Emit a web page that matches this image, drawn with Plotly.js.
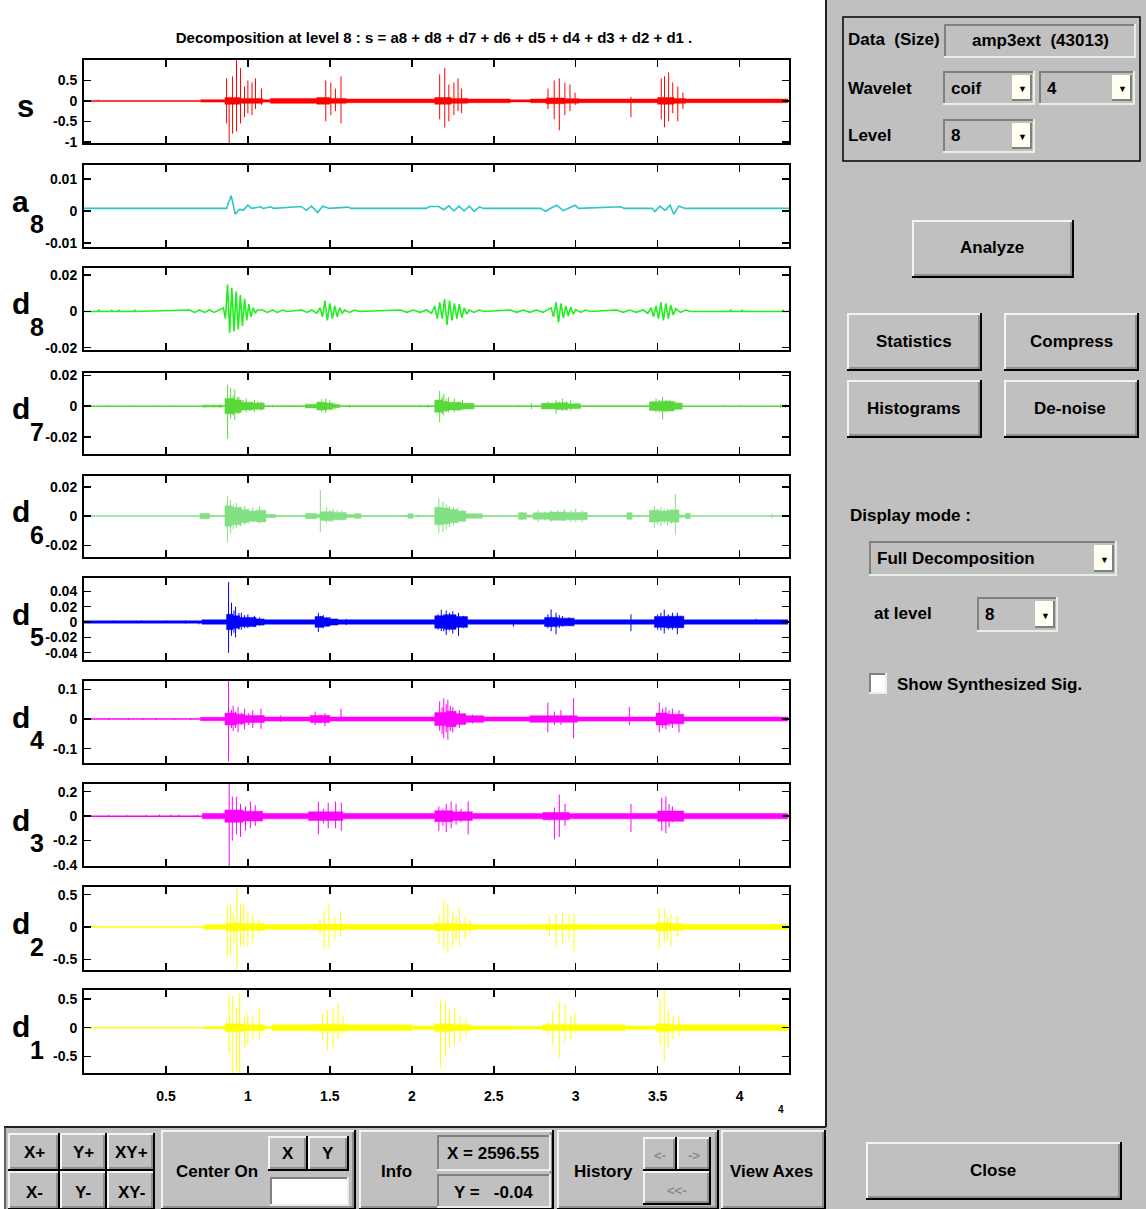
<!DOCTYPE html>
<html><head><meta charset="utf-8">
<script src="https://cdn.plot.ly/plotly-3.0.1.min.js"></script>
<style>html,body{margin:0;padding:0;background:#fff;overflow:hidden}#chart{width:1146px;height:1209px}</style>
</head><body><div id="chart"></div>
<script>
// ---------------- DATA ----------------
const N_SAMPLES = 43013;
const xTickVals = [5000, 10000, 15000, 20000, 25000, 30000, 35000, 40000];
const xTickText = ['0.5', '1', '1.5', '2', '2.5', '3', '3.5', '4'];
const panelLetters = ['s', 'a', 'd', 'd', 'd', 'd', 'd', 'd', 'd', 'd'];
const panelLevels  = ['', '8', '8', '7', '6', '5', '4', '3', '2', '1'];

// s
const s_range = [-1.03, 1.0];
const s_tickVals = [-1, -0.5, 0, 0.5];
const s_tickText = ['-1', '-0.5', '0', '0.5'];
const s_spikeT  = [850, 8700, 8857, 9064, 9307, 9550, 9793, 10000, 10250, 10463, 10828, 14750, 15060, 15340, 15680, 21700, 22010, 22260, 22570, 22820, 23040, 28310, 28690, 29000, 29340, 29650, 29960, 33370, 35220, 35420, 35670, 35920, 36230, 36540];
const s_spikeUp = [0.03, 0.55, 0.05, 0.6, 1.0, 0.8, 0.35, 0.5, 0.45, 0.55, 0.3, 0.5, 0.45, 0.3, 0.6, 0.65, 0.8, 0.4, 0.45, 0.55, 0.3, 0.3, 0.5, 0.55, 0.45, 0.4, 0.2, 0.1, 0.55, 0.6, 0.7, 0.45, 0.35, 0.2];
const s_spikeDn = [0, -0.55, -1.03, -0.8, -0.75, -0.55, -0.4, -0.3, -0.35, -0.2, -0.1, -0.5, -0.35, -0.25, -0.55, -0.45, -0.65, -0.5, -0.35, -0.25, -0.3, -0.2, -0.45, -0.72, -0.35, -0.25, -0.1, -0.4, -0.45, -0.65, -0.5, -0.3, -0.5, -0.2];
const s_bandX = [7117, 8600, 9500, 10900, 11375, 14200, 15000, 16000, 21400, 22400, 23400, 26000, 27250, 28200, 29300, 30200, 35000, 36000, 36700, 42960];
const s_bandH = [0.03, 0.08, 0.06, 0.03, 0.06, 0.08, 0.06, 0.045, 0.08, 0.06, 0.045, 0.025, 0.045, 0.07, 0.055, 0.045, 0.08, 0.06, 0.045];

// a8
const a8_range = [-0.0112, 0.0143];
const a8_tickVals = [-0.01, 0, 0.01];
const a8_tickText = ['-0.01', '0', '0.01'];
const a8_x = [1, 8700, 8980, 9230, 9480, 9730, 10000, 10220,
  10770, 10940, 11400, 11560,
  13260, 13570, 13880, 14250, 14560, 14970,
  16120, 16300,
  20870, 21080, 21640, 21950, 22260, 22570, 22880, 23190, 23500, 23810, 24120, 24370,
  27850, 28160, 28530, 28840, 29240, 29710, 29960, 30180,
  32750, 32970,
  34670, 34830, 35140, 35450, 35760, 35980, 36290, 36690,
  43013];
const a8_y = [0.0008, 0.0008, 0.0048, -0.0010, 0.0005, 0.0003, 0.0018, 0.0008,
  0.0013, 0.0008, 0.0013, 0.0008,
  0.0014, 0.0002, 0.0015, -0.0005, 0.0015, 0.0008,
  0.0012, 0.0008,
  0.0008, 0.0014, 0.0014, 0.0004, 0.0016, 0.0000, 0.0015, 0.0000, 0.0015, -0.0001, 0.0013, 0.0008,
  0.0008, -0.0001, 0.0010, 0.0018, 0.0001, 0.0012, 0.0018, 0.0008,
  0.0013, 0.0008,
  0.0008, -0.0002, 0.0015, 0.0002, 0.0018, -0.0010, 0.0015, 0.0008,
  0.0008];

// d8
const d8_range = [-0.0213, 0.024];
const d8_tickVals = [-0.02, 0, 0.02];
const d8_tickText = ['-0.02', '0', '0.02'];
const d8_x = [1,
  850, 900, 950, 1640, 1690, 1740, 2070, 2120, 2170, 3040, 3090, 3140,
  6450, 6750, 7050, 7350, 7650, 7950, 8270,
  8500, 8630, 8760, 8890, 9020, 9150, 9280, 9410, 9540, 9670, 9800, 9930, 10060, 10190, 10320, 10450, 10580,
  10900, 11200, 11500, 11800, 12100, 12400,
  13300, 13600, 13900, 14200,
  14400, 14550, 14700, 14850, 15000, 15150, 15300, 15450, 15600, 15750, 15900, 16200, 16500, 16800,
  19300, 19700, 20100, 20500, 20900, 21200,
  21400, 21550, 21700, 21850, 22000, 22150, 22300, 22450, 22600, 22750, 22900, 23050, 23200, 23350, 23500, 23800, 24100, 24400,
  26000, 26400, 26800, 27200, 27600, 28000,
  28500, 28650, 28800, 28950, 29100, 29250, 29400, 29550, 29700, 29850, 30000, 30300, 30600, 30900,
  32500, 32900, 33300, 33700, 34100, 34400,
  34600, 34750, 34900, 35050, 35200, 35350, 35500, 35650, 35800, 35950, 36100, 36400, 36700, 37000,
  39400, 39450, 39500, 40100, 40150, 40200, 42600, 42650, 42700,
  43013];
const d8_y = [0,
  0, 0.0008, 0, 0, 0.0008, 0, 0, 0.0008, 0, 0, 0.0008, 0,
  0.0008, -0.0005, 0.0008, -0.0005, 0.0008, -0.0005, 0.001,
  0.002, -0.004, 0.0148, -0.0118, 0.013, -0.011, 0.011, -0.010, 0.009, -0.008, 0.007, -0.005, 0.004, -0.003, 0.002, -0.001, 0.0008,
  0.0008, -0.0005, 0.0008, -0.0005, 0.0008, 0,
  0.0008, -0.0005, 0.0008, -0.001,
  0.002, -0.003, 0.006, -0.005, 0.0045, -0.004, 0.003, -0.003, 0.002, -0.001, 0.0008, -0.0005, 0.0008, 0,
  0.0008, -0.0005, 0.0008, -0.0005, 0.0008, -0.001,
  0.003, -0.004, 0.005, -0.004, 0.0068, -0.0075, 0.006, -0.005, 0.0045, -0.004, 0.004, -0.0035, 0.002, -0.0015, 0.0008, -0.0005, 0.0008, 0,
  0.0008, -0.0005, 0.0008, -0.0005, 0.0008, -0.0005,
  0.002, -0.003, 0.005, -0.006, 0.0045, -0.0035, 0.003, -0.0025, 0.0025, -0.0015, 0.001, -0.0005, 0.0008, 0,
  0.0008, -0.0005, 0.0008, -0.0005, 0.0008, -0.001,
  0.002, -0.003, 0.003, -0.004, 0.005, -0.005, 0.0045, -0.004, 0.0035, -0.002, 0.0015, -0.0005, 0.0008, 0,
  0, 0.0008, 0, 0, 0.0008, 0, 0, 0.0008, 0,
  0];

// d7
const d7_range = [-0.0312, 0.0216];
const d7_tickVals = [-0.02, 0, 0.02];
const d7_tickText = ['-0.02', '0', '0.02'];
const d7_spikeT  = [1500, 2800, 4300, 5200, 7400, 7900, 8300, 8760, 8950, 9100, 9200, 9350, 9450, 9700, 9900, 10150, 10400, 10600, 10800, 11500, 12600, 14300, 14500, 14750, 15000, 15300, 16200, 20500, 21000, 21700, 21850, 21950, 22100, 22250, 22600, 22850, 23100, 23500, 26500, 27300, 28300, 28550, 28800, 29000, 29200, 29450, 29700, 30000, 34900, 35100, 35300, 35500, 35700, 35900, 36100, 39100, 40000, 42500, 42800];
const d7_spikeUp = [0.0006, 0.0006, 0.0006, 0.0006, 0.001, 0.001, 0.0012, 0.014, 0.012, 0.007, 0.011, 0.006, 0.006, 0.004, 0.005, 0.003, 0.004, 0.003, 0.003, 0.001, 0.0008, 0.003, 0.0045, 0.005, 0.004, 0.002, 0.001, 0.001, 0.001, 0.010, 0.006, 0.008, 0.005, 0.006, 0.005, 0.003, 0.004, 0.002, 0.0008, 0.002, 0.003, 0.002, 0.004, 0.003, 0.005, 0.003, 0.004, 0.002, 0.005, 0.004, 0.006, 0.004, 0.004, 0.003, 0.003, 0.0008, 0.0008, 0.0012, 0.0012];
const d7_spikeDn = [-0.0003, 0, 0, 0, -0.001, -0.0008, -0.001, -0.0213, -0.008, -0.006, -0.009, -0.005, -0.005, -0.003, -0.004, -0.003, -0.004, -0.002, -0.003, -0.0008, -0.0005, -0.002, -0.004, -0.0045, -0.003, -0.002, -0.001, -0.0008, -0.001, -0.0105, -0.005, -0.006, -0.004, -0.004, -0.004, -0.003, -0.003, -0.002, -0.0008, -0.002, -0.002, -0.002, -0.005, -0.002, -0.003, -0.003, -0.003, -0.002, -0.004, -0.004, -0.0087, -0.004, -0.003, -0.003, -0.002, 0, 0, -0.0012, -0.0012];
const d7_bandX = [7200, 8460, 8600, 9200, 9600, 10300, 11000, 13500, 14200, 14800, 15200, 15600, 21400, 21900, 22200, 23000, 23800, 27900, 28800, 29500, 30300, 34500, 35200, 36000, 36500];
const d7_bandH = [0.0006, 0, 0.005, 0.004, 0.0025, 0.002, 0, 0.0012, 0.0025, 0.002, 0.001, 0, 0.004, 0.003, 0.0025, 0.0018, 0, 0.0018, 0.0022, 0.0015, 0, 0.0028, 0.0032, 0.002, 0];

// d6
const d6_range = [-0.028, 0.0274];
const d6_tickVals = [-0.02, 0, 0.02];
const d6_tickText = ['-0.02', '0', '0.02'];
const d6_spikeT  = [7300, 8750, 8950, 9100, 9300, 9550, 9800, 10050, 10300, 10700, 11400, 14420, 14800, 15000, 15200, 15450, 15700, 16700, 19900, 20400, 21650, 21900, 22100, 22300, 22550, 22800, 23100, 23800, 26700, 27700, 28100, 28500, 28900, 29300, 29700, 30000, 30400, 33300, 33800, 34800, 35000, 35200, 35400, 35600, 35850, 36080, 36850, 41970];
const d6_spikeUp = [0.002, 0.0139, 0.011, 0.008, 0.009, 0.006, 0.007, 0.005, 0.006, 0.0067, 0.0015, 0.0179, 0.006, 0.004, 0.005, 0.004, 0.004, 0.002, 0.0015, 0.001, 0.0123, 0.010, 0.008, 0.007, 0.006, 0.006, 0.004, 0.002, 0.003, 0.004, 0.003, 0.004, 0.004, 0.005, 0.004, 0.005, 0.004, 0.003, 0.001, 0.007, 0.005, 0.006, 0.005, 0.005, 0.004, 0.015, 0.002, 0.0015];
const d6_spikeDn = [-0.002, -0.018, -0.012, -0.009, -0.008, -0.007, -0.006, -0.005, -0.004, -0.005, -0.0015, -0.011, -0.005, -0.004, -0.004, -0.003, -0.003, -0.002, -0.0015, -0.001, -0.0115, -0.011, -0.009, -0.0075, -0.006, -0.005, -0.004, -0.002, -0.003, -0.004, -0.003, -0.004, -0.003, -0.0035, -0.004, -0.004, -0.004, -0.003, -0.001, -0.008, -0.006, -0.007, -0.005, -0.006, -0.005, -0.0125, -0.002, -0.0015];
const d6_bandX = [7060, 7660, 8600, 9000, 9600, 10000, 10500, 11100, 11700, 13500, 14200, 14400, 15200, 16000, 16500, 16900, 19770, 20080, 21400, 21900, 22300, 22800, 23300, 24300, 26500, 27000, 27400, 28400, 29400, 30700, 33120, 33440, 34500, 35100, 35700, 36300, 36700, 37000];
const d6_bandH = [0.0018, 0, 0.007, 0.006, 0.0045, 0.0035, 0.004, 0.001, 0, 0.0018, 0.001, 0.003, 0.0025, 0.001, 0.0015, 0, 0.0015, 0, 0.006, 0.0055, 0.0045, 0.0035, 0.0015, 0, 0.0022, 0.0008, 0.0022, 0.0028, 0.0025, 0, 0.0022, 0, 0.004, 0.0035, 0.0042, 0.0008, 0.0018];

// d5
const d5_range = [-0.0495, 0.0573];
const d5_tickVals = [-0.04, -0.02, 0, 0.02, 0.04];
const d5_tickText = ['-0.04', '-0.02', '0', '0.02', '0.04'];
const d5_spikeT  = [1800, 3500, 5000, 6200, 7000, 8820, 9000, 9150, 9250, 9450, 9600, 9800, 10000, 10400, 10700, 11600, 14300, 14450, 14600, 14800, 15000, 16000, 21600, 21800, 21950, 22100, 22300, 22500, 22850, 23150, 26200, 28300, 28500, 28800, 29000, 29200, 29600, 33370, 35000, 35200, 35400, 35650, 35900, 36200, 36400, 41000];
const d5_spikeUp = [0.002, 0.002, 0.002, 0.002, 0.001, 0.052, 0.025, 0.015, 0.02, 0.012, 0.012, 0.009, 0.01, 0.008, 0.006, 0.003, 0.012, 0.008, 0.009, 0.006, 0.006, 0.004, 0.01, 0.016, 0.01, 0.015, 0.012, 0.014, 0.012, 0.008, 0.002, 0.01, 0.0164, 0.012, 0.009, 0.008, 0.006, 0.01, 0.01, 0.012, 0.016, 0.01, 0.012, 0.012, 0.008, 0.004];
const d5_spikeDn = [-0.001, -0.001, -0.001, -0.002, -0.003, -0.04, -0.018, -0.014, -0.02, -0.01, -0.01, -0.008, -0.008, -0.006, -0.005, -0.003, -0.013, -0.007, -0.008, -0.006, -0.005, -0.004, -0.01, -0.012, -0.012, -0.017, -0.011, -0.015, -0.018, -0.008, -0.006, -0.008, -0.012, -0.016, -0.008, -0.006, -0.005, -0.012, -0.01, -0.011, -0.015, -0.01, -0.01, -0.016, -0.007, -0.002];
const d5_bandX = [1, 7200, 8700, 9100, 9500, 10500, 11000, 14100, 14600, 15000, 15500, 21400, 22000, 22700, 23400, 28100, 28900, 29900, 34800, 35500, 36600, 42960];
const d5_bandH = [0.0015, 0.0028, 0.01, 0.008, 0.006, 0.004, 0.0028, 0.007, 0.0055, 0.004, 0.0028, 0.008, 0.0095, 0.007, 0.0028, 0.006, 0.005, 0.0028, 0.007, 0.0075, 0.0028];

// d4
const d4_range = [-0.148, 0.128];
const d4_tickVals = [-0.1, 0, 0.1];
const d4_tickText = ['-0.1', '0', '0.1'];
const d4_spikeT  = [1500, 2700, 3600, 4400, 5500, 6500, 8820, 9000, 9100, 9250, 9400, 9600, 9800, 10050, 10300, 10800, 12000, 14100, 14400, 14700, 15680, 21700, 21850, 21950, 22100, 22200, 22350, 22500, 22900, 23700, 28300, 28700, 29100, 29870, 33270, 35100, 35300, 35500, 35700, 35900, 36300];
const d4_spikeUp = [0.004, 0.004, 0.004, 0.004, 0.003, 0.004, 0.128, 0.03, 0.045, 0.025, 0.04, 0.02, 0.035, 0.02, 0.03, 0.035, 0.012, 0.025, 0.015, 0.02, 0.034, 0.06, 0.04, 0.07, 0.05, 0.065, 0.045, 0.04, 0.03, 0.015, 0.055, 0.025, 0.03, 0.07, 0.04, 0.055, 0.035, 0.04, 0.03, 0.035, 0.03];
const d4_spikeDn = [-0.004, -0.004, -0.003, -0.004, -0.003, -0.004, -0.142, -0.03, -0.04, -0.03, -0.045, -0.02, -0.035, -0.02, -0.03, -0.033, -0.01, -0.02, -0.015, -0.025, -0.008, -0.04, -0.05, -0.065, -0.045, -0.07, -0.04, -0.045, -0.03, -0.015, -0.045, -0.02, -0.02, -0.065, -0.02, -0.045, -0.03, -0.035, -0.025, -0.03, -0.045];
const d4_bandX = [7100, 8600, 9300, 9800, 11000, 13800, 15000, 21400, 22100, 22700, 23300, 24400, 27200, 30100, 34900, 35600, 36600, 42960];
const d4_bandH = [0.006, 0.02, 0.016, 0.012, 0.007, 0.012, 0.007, 0.022, 0.026, 0.018, 0.011, 0.007, 0.011, 0.007, 0.02, 0.016, 0.007];

// d3
const d3_range = [-0.408, 0.263];
const d3_tickVals = [-0.4, -0.2, 0, 0.2];
const d3_tickText = ['-0.4', '-0.2', '0', '0.2'];
const d3_spikeT  = [1500, 2600, 3800, 4600, 5300, 5800, 6700, 6900, 8857, 9050, 9300, 9550, 9850, 10150, 10450, 10800, 14300, 14600, 14900, 15350, 15700, 21650, 21900, 22100, 22400, 22700, 23000, 23440, 28700, 29000, 29350, 33370, 35250, 35500, 35700, 35900, 36300];
const d3_spikeUp = [0.01, 0.01, 0.01, 0.012, 0.012, 0.012, 0.01, 0.012, 0.263, 0.16, 0.16, 0.1, 0.08, 0.12, 0.09, 0.04, 0.12, 0.06, 0.11, 0.12, 0.11, 0.08, 0.06, 0.1, 0.12, 0.1, 0.06, 0.12, 0.07, 0.176, 0.1, 0.1, 0.15, 0.16, 0.1, 0.08, 0.04];
const d3_spikeDn = [0, 0, 0, 0, 0, 0, 0, 0, -0.408, -0.2, -0.15, -0.17, -0.12, -0.1, -0.08, -0.03, -0.15, -0.06, -0.1, -0.1, -0.12, -0.12, -0.08, -0.13, -0.1, -0.07, -0.05, -0.15, -0.19, -0.17, -0.08, -0.13, -0.12, -0.14, -0.09, -0.05, -0.04];
const d3_bandX = [7210, 8600, 9700, 10900, 13700, 15800, 21400, 22500, 23700, 28000, 29600, 35000, 36600, 42960];
const d3_bandH = [0.022, 0.05, 0.04, 0.022, 0.035, 0.022, 0.045, 0.035, 0.022, 0.03, 0.022, 0.042, 0.022];

// d2
const d2_range = [-0.666, 0.619];
const d2_tickVals = [-0.5, 0, 0.5];
const d2_tickText = ['-0.5', '0', '0.5'];
const d2_spikeT  = [8760, 8950, 9150, 9330, 9550, 9750, 10000, 10300, 10700, 14400, 14650, 14950, 15300, 15650, 21650, 21950, 22200, 22500, 22700, 22900, 23250, 23550, 28400, 28800, 29200, 29600, 29900, 35100, 35400, 35600, 35800, 36200];
const d2_spikeUp = [0.33, 0.35, 0.2, 0.619, 0.35, 0.37, 0.25, 0.2, 0.12, 0.12, 0.25, 0.35, 0.15, 0.25, 0.2, 0.41, 0.35, 0.25, 0.15, 0.3, 0.15, 0.1, 0.15, 0.2, 0.22, 0.2, 0.2, 0.3, 0.28, 0.15, 0.2, 0.18];
const d2_spikeDn = [-0.46, -0.45, -0.25, -0.666, -0.3, -0.28, -0.3, -0.25, -0.1, -0.12, -0.33, -0.33, -0.2, -0.15, -0.25, -0.34, -0.415, -0.3, -0.2, -0.3, -0.2, -0.1, -0.15, -0.3, -0.25, -0.2, -0.39, -0.35, -0.25, -0.2, -0.3, -0.15];
const d2_bandX = [7300, 8700, 9800, 11000, 14000, 15800, 21400, 22600, 23700, 28000, 30200, 34900, 35800, 36600, 42960];
const d2_bandH = [0.035, 0.06, 0.05, 0.04, 0.045, 0.04, 0.055, 0.045, 0.035, 0.04, 0.035, 0.06, 0.05, 0.04];

// d1
const d1_range = [-0.79, 0.656];
const d1_tickVals = [-0.5, 0, 0.5];
const d1_tickText = ['-0.5', '0', '0.5'];
const d1_spikeT  = [8700, 8860, 9050, 9300, 9500, 9800, 10000, 10300, 10700, 14550, 14850, 15200, 15500, 15800, 21750, 22050, 22300, 22600, 22950, 23300, 28300, 28600, 29000, 29350, 29700, 29950, 35150, 35400, 35650, 35950, 36300];
const d1_spikeUp = [0.1, 0.55, 0.55, 0.35, 0.6, 0.2, 0.25, 0.2, 0.35, 0.25, 0.3, 0.35, 0.43, 0.2, 0.5, 0.45, 0.3, 0.35, 0.2, 0.15, 0.1, 0.3, 0.45, 0.4, 0.2, 0.25, 0.5, 0.656, 0.3, 0.2, 0.2];
const d1_spikeDn = [-0.05, -0.44, -0.79, -0.75, -0.79, -0.35, -0.3, -0.2, -0.2, -0.2, -0.4, -0.35, -0.2, -0.1, -0.69, -0.5, -0.35, -0.3, -0.25, -0.15, -0.1, -0.3, -0.52, -0.25, -0.2, -0.1, -0.3, -0.58, -0.35, -0.2, -0.15];
const d1_bandX = [7360, 8600, 9800, 11000, 11500, 14000, 16000, 20000, 21400, 22500, 23600, 26200, 28000, 30200, 33000, 34900, 35800, 36700, 42950];
const d1_bandH = [0.02, 0.065, 0.05, 0.02, 0.05, 0.06, 0.05, 0.03, 0.065, 0.05, 0.03, 0.025, 0.05, 0.05, 0.03, 0.065, 0.05, 0.05];

// ---------------- STYLE / LAYOUT ----------------
const W = 1146, H = 1209;
const F = "'Liberation Sans', Arial, sans-serif";
const panelTop    = [60, 165, 268, 373, 476, 578, 681, 784, 887, 990];
const panelBottom = [143, 247, 350, 454, 557, 660, 763, 866, 970, 1073];
const plotLeft = 84, plotRight = 789;
const panels = [
  {color: '#ff0000', yr: s_range, tv: s_tickVals, tt: s_tickText, spikes: [s_spikeT, s_spikeUp, s_spikeDn], band: [s_bandX, s_bandH]},
  {color: '#2ec6c6', yr: a8_range, tv: a8_tickVals, tt: a8_tickText, wave: [a8_x, a8_y]},
  {color: '#22ee22', yr: d8_range, tv: d8_tickVals, tt: d8_tickText, wave: [d8_x, d8_y]},
  {color: '#5ad83a', yr: d7_range, tv: d7_tickVals, tt: d7_tickText, spikes: [d7_spikeT, d7_spikeUp, d7_spikeDn], band: [d7_bandX, d7_bandH]},
  {color: '#84e084', yr: d6_range, tv: d6_tickVals, tt: d6_tickText, spikes: [d6_spikeT, d6_spikeUp, d6_spikeDn], band: [d6_bandX, d6_bandH]},
  {color: '#0000ff', yr: d5_range, tv: d5_tickVals, tt: d5_tickText, spikes: [d5_spikeT, d5_spikeUp, d5_spikeDn], band: [d5_bandX, d5_bandH]},
  {color: '#ff00ff', yr: d4_range, tv: d4_tickVals, tt: d4_tickText, spikes: [d4_spikeT, d4_spikeUp, d4_spikeDn], band: [d4_bandX, d4_bandH]},
  {color: '#ff00ff', yr: d3_range, tv: d3_tickVals, tt: d3_tickText, spikes: [d3_spikeT, d3_spikeUp, d3_spikeDn], band: [d3_bandX, d3_bandH]},
  {color: '#ffff00', yr: d2_range, tv: d2_tickVals, tt: d2_tickText, spikes: [d2_spikeT, d2_spikeUp, d2_spikeDn], band: [d2_bandX, d2_bandH]},
  {color: '#ffff00', yr: d1_range, tv: d1_tickVals, tt: d1_tickText, spikes: [d1_spikeT, d1_spikeUp, d1_spikeDn], band: [d1_bandX, d1_bandH]}
];

const P = x => x / W;
const Q = y => 1 - y / H;

const traces = [];
const layout = {
  width: W, height: H, margin: {l: 0, r: 0, t: 0, b: 0},
  paper_bgcolor: '#ffffff', plot_bgcolor: '#ffffff', showlegend: false, hovermode: false,
  title: {text: 'Decomposition at level 8 : s = a8 + d8 + d7 + d6 + d5 + d4 + d3 + d2 + d1 .',
    x: P(434), xref: 'paper', xanchor: 'center', y: Q(38), yref: 'paper', yanchor: 'middle',
    font: {family: F, size: 15, color: '#000', weight: 'bold'}},
  shapes: [], annotations: []
};

panels.forEach((p, i) => {
  const k = i + 1;
  const xa = 'x' + (k === 1 ? '' : k), ya = 'y' + (k === 1 ? '' : k);
  const axKeyX = 'xaxis' + (k === 1 ? '' : k), axKeyY = 'yaxis' + (k === 1 ? '' : k);
  if (p.wave) {
    traces.push({x: p.wave[0], y: p.wave[1], xaxis: xa, yaxis: ya, mode: 'lines', line: {color: p.color, width: 1.6}, hoverinfo: 'skip'});
  } else {
    traces.push({x: [1, N_SAMPLES], y: [0, 0], xaxis: xa, yaxis: ya, mode: 'lines', line: {color: p.color, width: 1.5}, hoverinfo: 'skip'});
  }
  if (p.band) {
    const bx = p.band[0], bh = p.band[1];
    const up = bh.concat([bh[bh.length - 1]]);
    const dn = up.map(v => -v);
    traces.push({x: bx, y: up, xaxis: xa, yaxis: ya, mode: 'lines', line: {color: p.color, width: 0.5, shape: 'hv'}, hoverinfo: 'skip'});
    traces.push({x: bx, y: dn, xaxis: xa, yaxis: ya, mode: 'lines', fill: 'tonexty', fillcolor: p.color, line: {color: p.color, width: 0.5, shape: 'hv'}, hoverinfo: 'skip'});
  }
  if (p.spikes) {
    const sx = [], sy = [];
    p.spikes[0].forEach((t, j) => { sx.push(t, t, null); sy.push(p.spikes[1][j], p.spikes[2][j], null); });
    traces.push({x: sx, y: sy, xaxis: xa, yaxis: ya, mode: 'lines', line: {color: p.color, width: 1}, connectgaps: false, hoverinfo: 'skip'});
  }
  const common = {showline: true, linecolor: '#000', linewidth: 2, mirror: 'ticks', ticks: 'inside', ticklen: 7, tickwidth: 1.5, tickcolor: '#000', showgrid: false, zeroline: false, fixedrange: true,
    tickfont: {family: F, size: 14, color: '#000', weight: 'bold'}};
  layout[axKeyX] = Object.assign({}, common, {domain: [P(plotLeft), P(plotRight)], anchor: ya, range: [1, N_SAMPLES], tickmode: 'array', tickvals: xTickVals, ticktext: xTickText, showticklabels: k === 10, ticklabelstandoff: 9});
  layout[axKeyY] = Object.assign({}, common, {domain: [Q(panelBottom[i]), Q(panelTop[i])], anchor: xa, range: p.yr, tickmode: 'array', tickvals: p.tv, ticktext: p.tt, ticklabelstandoff: 2});
  const mid = (panelTop[i] + panelBottom[i]) / 2;
  if (panelLevels[i] === '') {
    layout.annotations.push({xref: 'paper', yref: 'paper', x: P(15), y: Q(mid + 5), xanchor: 'left', yanchor: 'middle',
      text: panelLetters[i], showarrow: false, font: {family: F, size: 31, color: '#000', weight: 'bold'}});
  } else {
    layout.annotations.push({xref: 'paper', yref: 'paper', x: P(10), y: Q(mid - 5), xanchor: 'left', yanchor: 'middle',
      text: panelLetters[i], showarrow: false, font: {family: F, size: 30, color: '#000', weight: 'bold'}});
    layout.annotations.push({xref: 'paper', yref: 'paper', x: P(28), y: Q(mid + 18), xanchor: 'left', yanchor: 'middle',
      text: panelLevels[i], showarrow: false, font: {family: F, size: 25, color: '#000', weight: 'bold'}});
  }
});

layout.annotations.push({xref: 'paper', yref: 'paper', x: P(786), y: Q(1117), text: '4', showarrow: false, font: {family: F, size: 10, color: '#000', weight: 'bold'}});

// ---------------- GUI CHROME ----------------
const S = layout.shapes, A = layout.annotations;
function rect(x0, y0, x1, y1, fill, lc, lw) {
  S.push({type: 'rect', xref: 'paper', yref: 'paper', x0: P(x0), x1: P(x1), y0: Q(y1), y1: Q(y0), fillcolor: fill || 'rgba(0,0,0,0)', line: {color: lc || 'rgba(0,0,0,0)', width: lw || 0}, layer: 'above'});
}
function seg(x0, y0, x1, y1, c, w) {
  S.push({type: 'line', xref: 'paper', yref: 'paper', x0: P(x0), x1: P(x1), y0: Q(y0), y1: Q(y1), line: {color: c, width: w}, layer: 'above'});
}
function txt(x, y, t, anchor, size, color) {
  A.push({xref: 'paper', yref: 'paper', x: P(x), y: Q(y), xanchor: anchor || 'left', yanchor: 'middle', text: t, showarrow: false,
    font: {family: F, size: size || 16, color: color || '#000', weight: 'bold'}});
}
function raised(x0, y0, x1, y1, fill) {
  rect(x0, y0, x1, y1, fill || '#c0c0c0');
  seg(x0, y0 + 1, x1, y0 + 1, '#f4f4ee', 2);
  seg(x0 + 1, y0, x0 + 1, y1, '#f4f4ee', 2);
  seg(x0, y1 - 1, x1, y1 - 1, '#000000', 2);
  seg(x1 - 1, y0, x1 - 1, y1, '#000000', 2);
  seg(x0 + 2, y1 - 3, x1 - 2, y1 - 3, '#808080', 1.5);
  seg(x1 - 3, y0 + 2, x1 - 3, y1 - 2, '#808080', 1.5);
}
function sunken(x0, y0, x1, y1, fill) {
  rect(x0, y0, x1, y1, fill || '#c0c0c0');
  seg(x0, y0 + 1, x1, y0 + 1, '#808080', 2);
  seg(x0 + 1, y0, x0 + 1, y1, '#808080', 2);
  seg(x0, y1 - 1, x1, y1 - 1, '#e4f2e4', 2);
  seg(x1 - 1, y0, x1 - 1, y1, '#e4f2e4', 2);
}
function popup(x0, y0, x1, y1, t) {
  sunken(x0, y0, x1, y1, '#c0c0c0');
  const ax0 = x1 - 23, ax1 = x1 - 3;
  rect(ax0, y0 + 4, ax1, y1 - 4, '#fffff2');
  seg(ax0, y1 - 5, ax1, y1 - 5, '#808080', 2);
  seg(ax1 - 1, y0 + 4, ax1 - 1, y1 - 4, '#808080', 2);
  txt((ax0 + ax1) / 2, (y0 + y1) / 2 + 1, '▼', 'center', 9);
  txt(x0 + 6, (y0 + y1) / 2, t, 'left', 17);
}

rect(827, 0, 1146, 1209, '#c0c0c0');
rect(4, 1127, 827, 1209, '#c0c0c0');
seg(826, 0, 826, 1127, '#202020', 2);
seg(4, 1127, 826, 1127, '#202020', 2);
seg(5, 1127, 5, 1209, '#404040', 1.5);

raised(8, 1133, 60, 1171); txt(34, 1152, 'X+', 'center', 17);
raised(60, 1133, 107, 1171); txt(83, 1152, 'Y+', 'center', 17);
raised(107, 1133, 155, 1171); txt(131, 1152, 'XY+', 'center', 17);
raised(8, 1171, 60, 1210); txt(34, 1192, 'X-', 'center', 17);
raised(60, 1171, 107, 1210); txt(83, 1192, 'Y-', 'center', 17);
raised(107, 1171, 155, 1210); txt(131, 1192, 'XY-', 'center', 17);
raised(161, 1130, 356, 1210);
txt(217, 1171, 'Center On', 'center', 17);
raised(268, 1136, 308, 1171); txt(288, 1153, 'X', 'center', 17);
raised(308, 1136, 349, 1171); txt(328, 1153, 'Y', 'center', 17);
sunken(270, 1177, 349, 1206, '#ffffff');
raised(359, 1130, 554, 1210);
txt(396, 1171, 'Info', 'center', 17);
sunken(437, 1135, 551, 1171, '#c0c0c0'); txt(493, 1153, 'X = 2596.55', 'center', 17);
sunken(437, 1174, 551, 1208, '#c0c0c0'); txt(493, 1192, 'Y =&nbsp;&nbsp; -0.04', 'center', 17);
raised(557, 1130, 719, 1210);
txt(603, 1171, 'History', 'center', 17);
raised(643, 1137, 677, 1171); txt(660, 1155, '&lt;-', 'center', 13, '#8a8a8a');
raised(677, 1137, 711, 1171); txt(694, 1155, '-&gt;', 'center', 13, '#8a8a8a');
raised(643, 1171, 711, 1205); txt(677, 1190, '&lt;&lt;-', 'center', 13, '#8a8a8a');
raised(721, 1130, 826, 1210); txt(771, 1171, 'View Axes', 'center', 17);

rect(843, 17, 1140, 161, null, '#000000', 1.5);
txt(846, 40, 'Data&nbsp; (Size)', 'left', 17);
sunken(944, 24, 1136, 58, '#c0c0c0'); txt(1040, 41, 'amp3ext&nbsp; (43013)', 'center', 17);
txt(846, 88, 'Wavelet', 'left', 17);
popup(943, 71, 1035, 105, 'coif');
popup(1039, 71, 1135, 105, '4');
txt(846, 135, 'Level', 'left', 17);
popup(943, 119, 1035, 153, '8');
raised(912, 220, 1074, 278); txt(992, 248, 'Analyze', 'center', 17);
raised(847, 313, 982, 371); txt(914, 341, 'Statistics', 'center', 17);
raised(1004, 313, 1139, 371); txt(1071, 341, 'Compress', 'center', 17);
raised(847, 380, 982, 438); txt(914, 408, 'Histograms', 'center', 17);
raised(1004, 380, 1139, 438); txt(1070, 408, 'De-noise', 'center', 17);
txt(848, 515, 'Display mode :', 'left', 17);
popup(869, 541, 1117, 576, 'Full Decomposition');
txt(872, 613, 'at level', 'left', 17);
popup(977, 597, 1058, 632, '8');
sunken(869, 673, 887, 694, '#ffffff');
txt(895, 684, 'Show Synthesized Sig.', 'left', 17);
raised(866, 1142, 1122, 1200); txt(993, 1170, 'Close', 'center', 17);

Plotly.newPlot('chart', traces, layout, {staticPlot: true, displayModeBar: false});
</script>
</body></html>
